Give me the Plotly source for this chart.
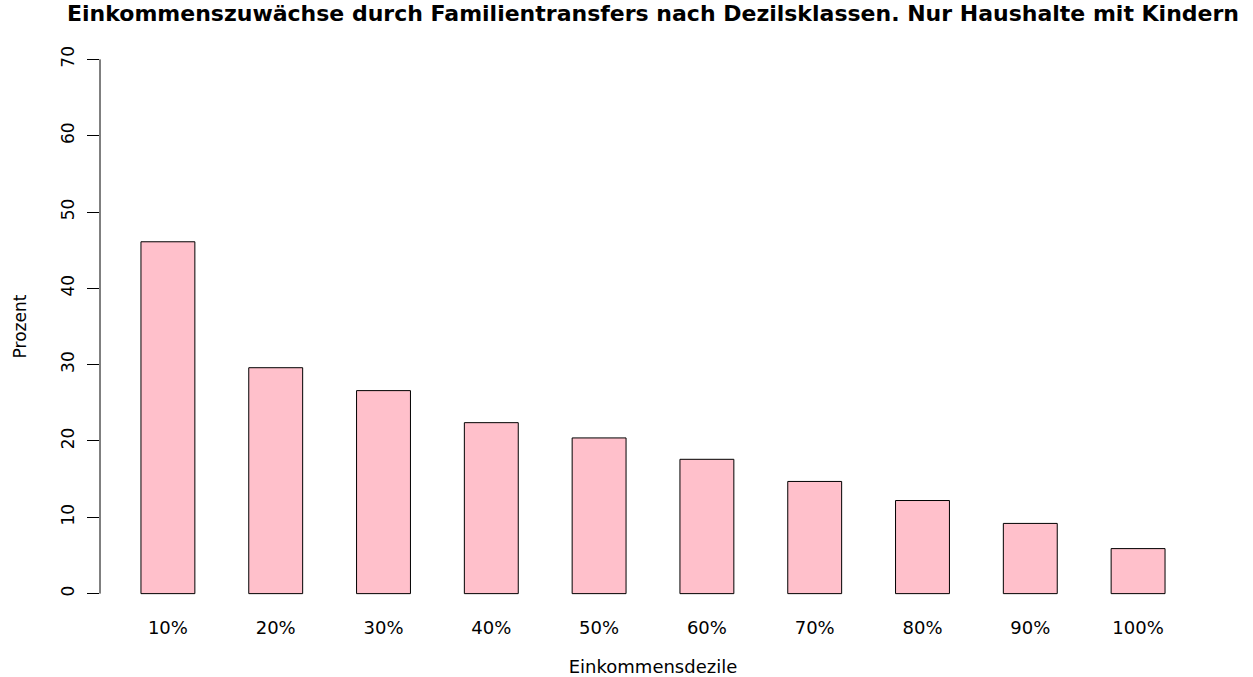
import plotly.graph_objects as go

categories = ["10%", "20%", "30%", "40%", "50%", "60%", "70%", "80%", "90%", "100%"]
values = [46.1, 29.6, 26.6, 22.4, 20.4, 17.6, 14.7, 12.2, 9.2, 5.9]
y_ticks = [0, 10, 20, 30, 40, 50, 60, 70]

title_text = "Einkommenszuwächse durch Familientransfers nach Dezilsklassen. Nur Haushalte mit Kindern"
x_title = "Einkommensdezile"
y_title = "Prozent"

FONT = "DejaVu Sans"

fig = go.Figure(
    go.Bar(
        x=categories,
        y=values,
        marker=dict(color="#FFC0CB", line=dict(color="#000000", width=1)),
        width=0.5,
    )
)

fig.update_layout(
    width=1253,
    height=677,
    paper_bgcolor="white",
    plot_bgcolor="white",
    margin=dict(l=100, r=47, t=38, b=62, autoexpand=False),
    showlegend=False,
    title=dict(
        text="<b>" + title_text + "</b>",
        font=dict(family=FONT, size=22, color="black"),
        x=0.5,
        xref="paper",
        xanchor="center",
        y=1 - 13 / 677,
        yref="container",
        yanchor="middle",
    ),
    font=dict(family=FONT, color="black"),
)

fig.update_xaxes(
    type="category",
    range=[-0.63, 9.63],
    automargin=False,
    showgrid=False,
    zeroline=False,
    showline=False,
    ticks="",
    tickfont=dict(family=FONT, size=18, color="black"),
    title=dict(text=x_title, font=dict(family=FONT, size=18, color="black"), standoff=28),
)

fig.update_yaxes(
    range=[-2.8, 72.8],
    automargin=False,
    tickvals=y_ticks,
    ticktext=[str(v) for v in y_ticks],
    tickangle=-90,
    showgrid=False,
    zeroline=False,
    showline=False,
    ticks="outside",
    ticklen=12,
    tickwidth=1,
    tickcolor="black",
    ticklabelstandoff=6,
    tickfont=dict(family=FONT, size=17, color="black"),
    title=dict(text=y_title, font=dict(family=FONT, size=17, color="black"), standoff=27),
)

# y axis line spanning only the tick range (R style)
fig.add_shape(
    type="line",
    xref="paper",
    yref="y",
    x0=0,
    x1=0,
    y0=y_ticks[0],
    y1=y_ticks[-1],
    line=dict(color="black", width=1),
)

fig.write_html(
    "out.html",
    config={"displayModeBar": False, "staticPlot": True},
    post_script="document.body.style.margin='0';document.body.style.padding='0';",
)
